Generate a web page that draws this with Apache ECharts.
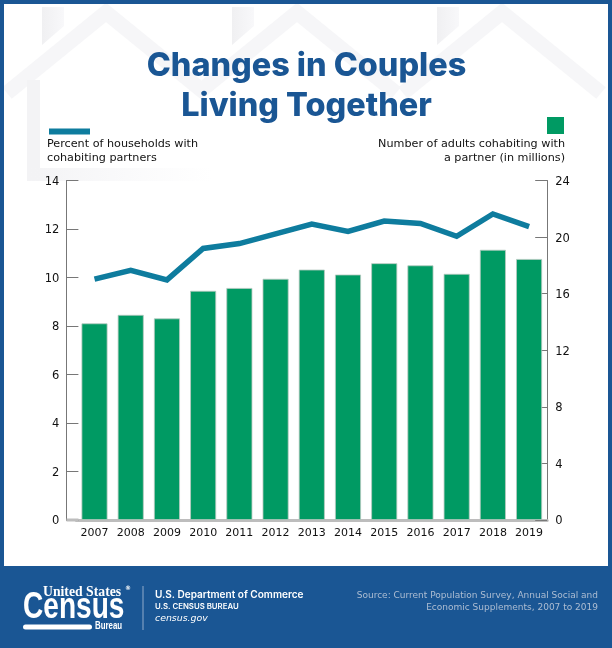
<!DOCTYPE html>
<html><head><meta charset="utf-8">
<style>html,body{margin:0;padding:0;background:#fff}#c{width:612px;height:648px}</style>
<script src="https://cdn.jsdelivr.net/npm/echarts@6/dist/echarts.min.js"></script>
</head><body><div id="c"></div>
<script>
var years=['2007','2008','2009','2010','2011','2012','2013','2014','2015','2016','2017','2018','2019'];
var adultsMillions=[13.9,14.5,14.25,16.2,16.4,17.05,17.7,17.35,18.15,18.0,17.4,19.1,18.45];
var percentHouseholds=[9.93,10.3,9.9,11.2,11.4,11.8,12.2,11.9,12.33,12.23,11.7,12.62,12.1];
var titleText='Changes in Couples\nLiving Together';
var lineLabel='Percent of households with\ncohabiting partners';
var barLabel='Number of adults cohabiting with\na partner (in millions)';
var sourceText='Source: Current Population Survey, Annual Social and\nEconomic Supplements, 2007 to 2019';

var BLUE='#1a5694',TEAL='#0e7c9e',GREEN='#009a63',HOUSE='#f6f6f8',AX='#777777',TXT='#111111';
var F='"DejaVu Sans",sans-serif';
function roof(a){return {type:'polyline',z:-5,silent:true,shape:{points:[[a-99,93],[a,12.5],[a+99,93]]},style:{fill:null,stroke:HOUSE,lineWidth:15,lineJoin:'miter'}};}
function chimFill(){return {type:'linear',x:0,y:0,x2:1,y2:0,colorStops:[{offset:0,color:'#f0f0f2'},{offset:1,color:'#f8f8fa'}]};}
function chim(x){return {type:'polygon',z:-5,silent:true,shape:{points:[[x,7],[x+22,7],[x+22,26],[x,45]]},style:{fill:chimFill()}};}
var fade={type:'linear',x:0,y:0,x2:1,y2:0,colorStops:[{offset:0,color:'#f3f3f5'},{offset:1,color:'rgba(245,245,247,0)'}]};
var graphics=[
 roof(106),roof(297),roof(502),chim(42),chim(232),chim(437),
 {type:'rect',z:-5,silent:true,shape:{x:27,y:80,width:13,height:101},style:{fill:'#f3f3f5'}},
 {type:'rect',z:-5,silent:true,shape:{x:27,y:168,width:185,height:13},style:{fill:fade}},
 {type:'rect',z:10,silent:true,shape:{x:0,y:0,width:612,height:4},style:{fill:BLUE}},
 {type:'rect',z:10,silent:true,shape:{x:0,y:0,width:4,height:648},style:{fill:BLUE}},
 {type:'rect',z:10,silent:true,shape:{x:608,y:0,width:4,height:648},style:{fill:BLUE}},
 {type:'rect',z:10,silent:true,shape:{x:0,y:566,width:612,height:82},style:{fill:BLUE}},
 {type:'rect',z:1,silent:true,shape:{x:49,y:128.5,width:41,height:6},style:{fill:TEAL}},
 {type:'rect',z:1,silent:true,shape:{x:547,y:117,width:17,height:17},style:{fill:GREEN}},
 {type:'text',z:1,silent:true,x:47,y:137.5,style:{text:lineLabel,font:'11.2px '+F,fill:TXT,lineHeight:13.5}},
 {type:'text',z:1,silent:true,x:565,y:137.5,style:{text:barLabel,font:'11.2px '+F,fill:TXT,align:'right',lineHeight:13.5}},
 {type:'rect',z:1,silent:true,shape:{x:66.5,y:518.5,width:12,height:3},style:{fill:'#bdbdbd'}},
 // footer
 {type:'text',z:11,silent:true,x:43,y:585,scaleX:0.98,style:{text:'United States',font:'bold 14px "Liberation Serif",serif',fill:'#fff'}},
 {type:'text',z:11,silent:true,x:125,y:585,style:{text:'®',font:'bold 6px '+F,fill:'#fff'}},
 {type:'text',z:11,silent:true,x:23,y:590,scaleX:0.78,style:{text:'Census',font:'bold 36px "Liberation Sans",sans-serif',fill:'#fff'}},
 {type:'rect',z:11,silent:true,shape:{x:23,y:624.5,width:69,height:5,r:2.5},style:{fill:'#fff'}},
 {type:'text',z:11,silent:true,x:95,y:621,scaleX:0.75,style:{text:'Bureau',font:'bold 10.5px "Liberation Sans",sans-serif',fill:'#fff'}},
 {type:'rect',z:11,silent:true,shape:{x:142.5,y:586,width:1,height:44},style:{fill:'#8fa9c9'}},
 {type:'text',z:11,silent:true,x:155,y:589.5,style:{text:'U.S. Department of Commerce',font:'600 10.05px Inter,sans-serif',fill:'#fff'}},
 {type:'text',z:11,silent:true,x:155,y:602.5,style:{text:'U.S. CENSUS BUREAU',font:'600 7.8px Inter,sans-serif',fill:'#fff'}},
 {type:'text',z:11,silent:true,x:155,y:614,style:{text:'census.gov',font:'italic 9.4px '+F,fill:'#fff'}},
 {type:'text',z:11,silent:true,x:598,y:589.5,style:{text:sourceText,font:'9px '+F,fill:'#adbdd2',align:'right',lineHeight:12}}
];
var chart=echarts.init(document.getElementById('c'),null,{renderer:'canvas'});
chart.setOption({
 animation:false,backgroundColor:'#fff',
 title:{text:titleText,left:301.5,top:41,textAlign:'center',textStyle:{fontFamily:'Inter,sans-serif',fontWeight:800,fontSize:32.4,lineHeight:40,color:BLUE}},
 grid:{left:76.4,right:64.8,top:180.5,bottom:128},
 xAxis:{type:'category',data:years,axisTick:{show:false},axisLine:{lineStyle:{color:'#bdbdbd',width:3}},
   axisLabel:{interval:0,margin:8,color:TXT,fontSize:11,fontFamily:F}},
 yAxis:[
  {type:'value',min:0,max:14,interval:2,position:'left',offset:10,splitLine:{show:false},
   axisLine:{show:true,lineStyle:{color:AX,width:1}},axisTick:{show:true,inside:true,length:12,lineStyle:{color:AX}},
   axisLabel:{color:TXT,fontSize:11.5,fontFamily:F,margin:7,verticalAlign:'top',lineHeight:3}},
  {type:'value',min:0,max:24,interval:4,position:'right',splitLine:{show:false},
   axisLine:{show:true,lineStyle:{color:AX,width:1}},axisTick:{show:true,inside:true,length:12,lineStyle:{color:AX}},
   axisLabel:{color:TXT,fontSize:11.5,fontFamily:F,margin:8,verticalAlign:'top',lineHeight:3}}
 ],
 series:[
  {name:'Number of adults cohabiting with a partner (in millions)',type:'bar',yAxisIndex:1,data:adultsMillions,barWidth:26,
   itemStyle:{color:GREEN,borderColor:'#b8c9c0',borderWidth:0.8}},
  {name:'Percent of households with cohabiting partners',type:'line',yAxisIndex:0,data:percentHouseholds,symbol:'none',z:3,
   lineStyle:{color:TEAL,width:5.5,cap:'butt',join:'miter'}}
 ],
 graphic:graphics
});
</script></body></html>
